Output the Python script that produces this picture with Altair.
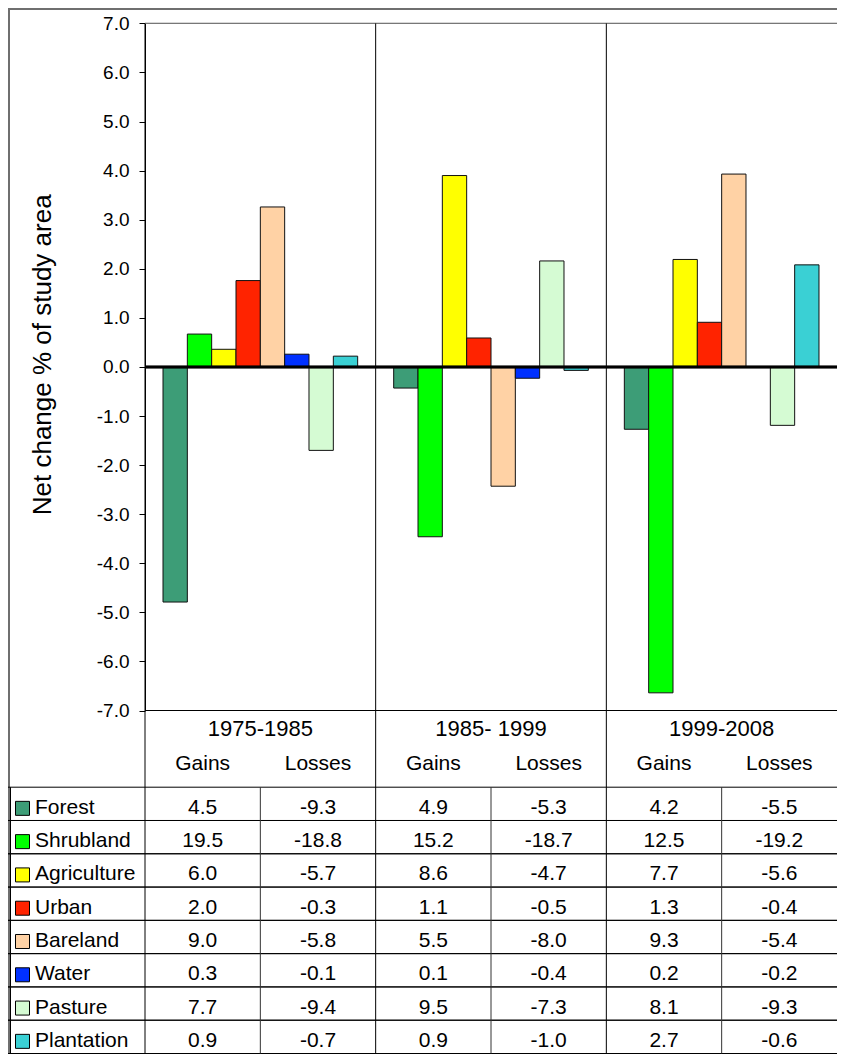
import altair as alt
import pandas as pd

# ---------------- data ----------------
categories = ["Forest", "Shrubland", "Agriculture", "Urban", "Bareland", "Water", "Pasture", "Plantation"]
colors = ["#3d9d77", "#00ff00", "#ffff00", "#ff2300", "#ffd2a5", "#0030ff", "#d5fbd3", "#3ad0d4"]
periods = ["1975-1985", "1985- 1999", "1999-2008"]
column_labels = ["Gains", "Losses"]

net_1975_1985 = [-4.79, 0.67, 0.36, 1.76, 3.26, 0.26, -1.70, 0.22]
net_1985_1999 = [-0.43, -3.46, 3.90, 0.59, -2.43, -0.23, 2.16, -0.07]
net_1999_2008 = [-1.27, -6.64, 2.19, 0.91, 3.93, 0.00, -1.19, 2.08]

gains_1975_1985 = [4.5, 19.5, 6.0, 2.0, 9.0, 0.3, 7.7, 0.9]
losses_1975_1985 = [-9.3, -18.8, -5.7, -0.3, -5.8, -0.1, -9.4, -0.7]
gains_1985_1999 = [4.9, 15.2, 8.6, 1.1, 5.5, 0.1, 9.5, 0.9]
losses_1985_1999 = [-5.3, -18.7, -4.7, -0.5, -8.0, -0.4, -7.3, -1.0]
gains_1999_2008 = [4.2, 12.5, 7.7, 1.3, 9.3, 0.2, 8.1, 2.7]
losses_1999_2008 = [-5.5, -19.2, -5.6, -0.4, -5.4, -0.2, -9.3, -0.6]

y_ticks = [-7, -6, -5, -4, -3, -2, -1, 0, 1, 2, 3, 4, 5, 6, 7]
y_title = "Net change % of study area"

# ---------------- tables built from the arrays ----------------
nets = [net_1975_1985, net_1985_1999, net_1999_2008]
gains = [gains_1975_1985, gains_1985_1999, gains_1999_2008]
losses = [losses_1975_1985, losses_1985_1999, losses_1999_2008]

bars_df = pd.DataFrame(
    [{"period": p, "category": c, "net": v}
     for p, vals in zip(periods, nets) for c, v in zip(categories, vals)]
)

col_keys = [f"{p}|{lab}" for p in periods for lab in column_labels]
cols_df = pd.DataFrame(
    [{"col": f"{p}|{lab}", "period": p, "label": lab} for p in periods for lab in column_labels]
)

table_rows = []
for p, g, l in zip(periods, gains, losses):
    for c, gv, lv in zip(categories, g, l):
        table_rows.append({"col": f"{p}|Gains", "category": c, "text": f"{gv:.1f}"})
        table_rows.append({"col": f"{p}|Losses", "category": c, "text": f"{lv:.1f}"})
table_df = pd.DataFrame(table_rows)

periods_df = pd.DataFrame({"period": periods})
cats_df = pd.DataFrame({"category": categories})

FONT = "Liberation Sans"

# ---------------- layout (plot-area pixels) ----------------
W, H = 829, 1046
K = 0.9922


def py(page_y):
    return round((page_y - 8) * K, 1)


Y_TOP, Y_BOT = py(23.5), py(716)
ROW_TOP, ROW_BOT = py(793.3), py(1061.7)
X0, X1 = 137, 829

# ---------------- scales ----------------
x_period = alt.Scale(domain=periods, range=[X0, X1], paddingInner=0, paddingOuter=0)
x_col = alt.Scale(domain=col_keys, range=[X0, X1], paddingInner=0, paddingOuter=0)
y_net = alt.Scale(domain=[-7, 7], range=[Y_BOT, Y_TOP], nice=False, zero=False)
y_row = alt.Scale(domain=categories, range=[ROW_TOP, ROW_BOT], paddingInner=0, paddingOuter=0)
color_scale = alt.Scale(domain=categories, range=colors)

# ---------------- layers ----------------
bars = alt.Chart(bars_df).mark_bar(stroke="#111111", strokeWidth=1).encode(
    x=alt.X("period:N", scale=x_period, axis=None, sort=periods),
    xOffset=alt.XOffset("category:N", sort=categories,
                        scale=alt.Scale(domain=categories, paddingOuter=0.74, paddingInner=0)),
    y=alt.Y("net:Q", scale=y_net, axis=alt.Axis(
        values=y_ticks, orient="left", offset=-X0, grid=False,
        labelExpr="replace(format(datum.value, '.1f'), '\u2212', '-')",
        domainColor="black", domainWidth=1, tickColor="black", tickSize=6, tickWidth=1,
        labelPadding=10, labelFont=FONT, labelFontSize=19, labelColor="black",
        title=y_title, titleFont=FONT, titleFontSize=26, titleFontWeight="normal",
        titleColor="black", titleX=-103, titleY=py(357), titleBaseline="middle", titleAlign="center",
    )),
    color=alt.Color("category:N", scale=color_scale, legend=None),
)

zero_line = alt.Chart(periods_df).mark_rule(color="black", strokeWidth=2.5).encode(
    y=alt.YDatum(0, type="quantitative", scale=y_net, axis=None),
    x=alt.value(X0), x2=alt.value(X1),
)
top_line = alt.Chart(periods_df).mark_rule(color="#777777", strokeWidth=1).encode(
    y=alt.YDatum(7, type="quantitative", scale=y_net, axis=None),
    x=alt.value(X0), x2=alt.value(X1),
)
bottom_line = alt.Chart(periods_df).mark_rule(color="black", strokeWidth=1).encode(
    y=alt.YDatum(-7, type="quantitative", scale=y_net, axis=None),
    x=alt.value(X0), x2=alt.value(X1),
)

period_seps = alt.Chart(periods_df).mark_rule(color="black", strokeWidth=1).encode(
    x=alt.X("period:N", scale=x_period, axis=None, bandPosition=0),
    y=alt.value(Y_TOP), y2=alt.value(ROW_BOT),
)

period_text = alt.Chart(periods_df).mark_text(
    font=FONT, fontSize=22, color="black", baseline="middle"
).encode(
    x=alt.X("period:N", scale=x_period, axis=None),
    y=alt.value(py(734.7)),
    text="period:N",
)

gl_text = alt.Chart(cols_df).mark_text(
    font=FONT, fontSize=21, color="black", baseline="middle"
).encode(
    x=alt.X("col:N", scale=x_col, axis=None),
    y=alt.value(py(769.8)),
    text="label:N",
)

row_lines_top = alt.Chart(cats_df).mark_rule(color="black", strokeWidth=1).encode(
    y=alt.Y("category:N", scale=y_row, axis=None, bandPosition=0),
)
row_lines_bottom = alt.Chart(cats_df).mark_rule(color="black", strokeWidth=1).encode(
    y=alt.Y("category:N", scale=y_row, axis=None, bandPosition=1),
)

gl_dividers = alt.Chart(cols_df[cols_df["label"] == "Losses"]).mark_rule(
    color="#333333", strokeWidth=1
).encode(
    x=alt.X("col:N", scale=x_col, axis=None, bandPosition=0),
    y=alt.value(ROW_TOP), y2=alt.value(ROW_BOT),
)

table_left = alt.Chart(cats_df.head(1)).mark_rule(color="black", strokeWidth=1).encode(
    x=alt.value(2.5), y=alt.value(ROW_TOP), y2=alt.value(ROW_BOT),
)

frame_left = alt.Chart(cats_df.head(1)).mark_rule(color="#6f6f6f", strokeWidth=2).encode(
    x=alt.value(1), y=alt.value(0), y2=alt.value(H),
)
frame_top = alt.Chart(cats_df.head(1)).mark_rule(color="#6f6f6f", strokeWidth=2).encode(
    y=alt.value(1), x=alt.value(0), x2=alt.value(W),
)

cell_text = alt.Chart(table_df).mark_text(
    font=FONT, fontSize=21, color="black", baseline="middle", dy=4
).encode(
    x=alt.X("col:N", scale=x_col, axis=None),
    y=alt.Y("category:N", scale=y_row, axis=None),
    text="text:N",
)

row_labels = alt.Chart(cats_df).mark_text(
    font=FONT, fontSize=21, color="black", baseline="middle", align="left", dy=4
).encode(
    x=alt.value(27),
    y=alt.Y("category:N", scale=y_row, axis=None),
    text="category:N",
)

swatches = alt.Chart(cats_df).mark_square(
    size=196, stroke="black", strokeWidth=1, opacity=1, yOffset=4.5
).encode(
    x=alt.value(14.5),
    y=alt.Y("category:N", scale=y_row, axis=None),
    color=alt.Color("category:N", scale=color_scale, legend=None),
)

chart = alt.layer(
    frame_left, frame_top,
    bars, top_line, bottom_line, period_seps, zero_line,
    period_text, gl_text,
    row_lines_top, row_lines_bottom, gl_dividers, table_left,
    cell_text, row_labels, swatches,
).resolve_scale(
    x="independent", y="independent", color="shared"
).properties(
    width=W, height=H,
    autosize=alt.AutoSizeParams(type="none"),
    padding={"left": 0, "top": 0, "right": 0, "bottom": 1},
    background="white",
).configure_view(stroke=None)

chart.save("out.html", embed_options={"renderer": "svg", "actions": False})
